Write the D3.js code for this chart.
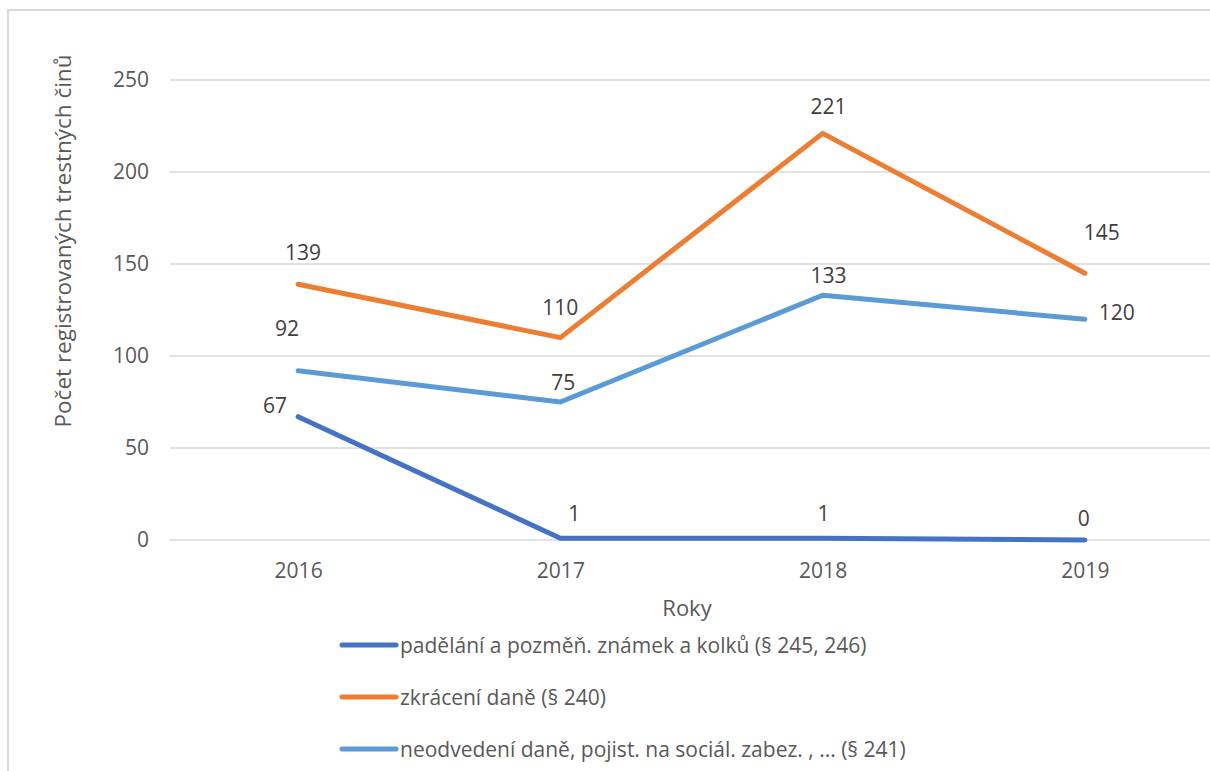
<!DOCTYPE html>
<html>
<head>
<meta charset="utf-8">
<script src="https://cdn.jsdelivr.net/npm/d3@7"></script>
<style>
  body { margin: 0; background: #fff; }
  svg { display: block; font-family: "Open Sans", sans-serif; }
</style>
</head>
<body>
<svg id="chart" width="1210" height="771"></svg>
<script>
// data
const years = ['2016', '2017', '2018', '2019'];
const seriesNames = [
    'padělání a pozměň. známek a kolků (§ 245, 246)',
    'zkrácení daně (§ 240)',
    'neodvedení daně, pojist. na sociál. zabez. , ... (§ 241)'
];
const padelani = [67, 1, 1, 0];
const zkraceni = [139, 110, 221, 145];
const neodvedeni = [92, 75, 133, 120];
const yTicks = [0, 50, 100, 150, 200, 250];

const colours = ['#4472C4', '#ED7D31', '#5B9BD5'];

// label offsets from the point (dx, dy), per series and year - layout only
const labelOffsets = [
    [[-23, -12], [14, -25], [1, -25], [-1, -22]],
    [[5, -32], [0, -31], [6, -27], [17, -41]],
    [[-11, -43], [3, -20], [6, -20], [32, -7]]
];

const series = [padelani, zkraceni, neodvedeni];

const svg = d3.select('#chart');

// chart frame (continues past the right and bottom edge of the picture)
svg.append('rect')
    .attr('x', 8).attr('y', 10)
    .attr('width', 1240).attr('height', 800)
    .attr('fill', 'none')
    .attr('stroke', '#d9d9d9')
    .attr('stroke-width', 2);

const x = d3.scalePoint().domain(years).range([167, 1216]).padding(0.5);
const y = d3.scaleLinear().domain([0, 250]).range([540, 80]);

// gridlines
svg.append('g')
    .selectAll('line')
    .data(yTicks)
    .join('line')
    .attr('x1', 170).attr('x2', 1216)
    .attr('y1', d => y(d)).attr('y2', d => y(d))
    .attr('stroke', '#d9d9d9')
    .attr('stroke-width', 1.5);

// y axis
const yAxis = svg.append('g')
    .attr('transform', 'translate(149,0)')
    .call(d3.axisLeft(y).tickValues(yTicks).tickSize(0).tickPadding(0));
yAxis.select('.domain').remove();
yAxis.selectAll('text')
    .attr('fill', '#595959')
    .style('font-size', '21px')
    .style('font-family', '"Open Sans", sans-serif');

// x axis
const xAxis = svg.append('g')
    .attr('transform', 'translate(0,560)')
    .call(d3.axisBottom(x).tickSize(0).tickPadding(0));
xAxis.select('.domain').remove();
xAxis.selectAll('text')
    .attr('fill', '#595959')
    .attr('dy', '0.32em')
    .attr('y', 11)
    .style('font-size', '21px')
    .style('font-family', '"Open Sans", sans-serif');

// axis titles
svg.append('text')
    .attr('transform', 'translate(62,241) rotate(-90)')
    .attr('text-anchor', 'middle')
    .attr('dominant-baseline', 'central')
    .attr('fill', '#595959')
    .style('font-size', '22.5px')
    .text('Počet registrovaných trestných činů');

svg.append('text')
    .attr('x', 687).attr('y', 607)
    .attr('text-anchor', 'middle')
    .attr('dominant-baseline', 'central')
    .attr('fill', '#595959')
    .style('font-size', '22px')
    .text('Roky');

// lines
const line = d3.line()
    .x((d, i) => x(years[i]))
    .y(d => y(d));

svg.append('g')
    .selectAll('path')
    .data(series)
    .join('path')
    .attr('d', line)
    .attr('fill', 'none')
    .attr('stroke', (d, i) => colours[i])
    .attr('stroke-width', 5)
    .attr('stroke-linecap', 'round')
    .attr('stroke-linejoin', 'round');

// data labels
series.forEach((vals, s) => {
    svg.append('g')
        .selectAll('text')
        .data(vals)
        .join('text')
        .attr('x', (d, i) => x(years[i]) + labelOffsets[s][i][0])
        .attr('y', (d, i) => y(d) + labelOffsets[s][i][1])
        .attr('text-anchor', 'middle')
        .attr('dominant-baseline', 'central')
        .attr('fill', '#404040')
        .style('font-size', '21px')
        .text(d => d);
});

// legend
const legend = svg.append('g')
    .selectAll('g')
    .data(seriesNames)
    .join('g')
    .attr('transform', (d, i) => `translate(340,${645 + i * 52})`);

legend.append('line')
    .attr('x1', 2).attr('x2', 56)
    .attr('stroke', (d, i) => colours[i])
    .attr('stroke-width', 5)
    .attr('stroke-linecap', 'round');

legend.append('text')
    .attr('x', 60)
    .attr('dominant-baseline', 'central')
    .attr('fill', '#595959')
    .style('font-size', '21px')
    .text(d => d);
</script>
</body>
</html>
